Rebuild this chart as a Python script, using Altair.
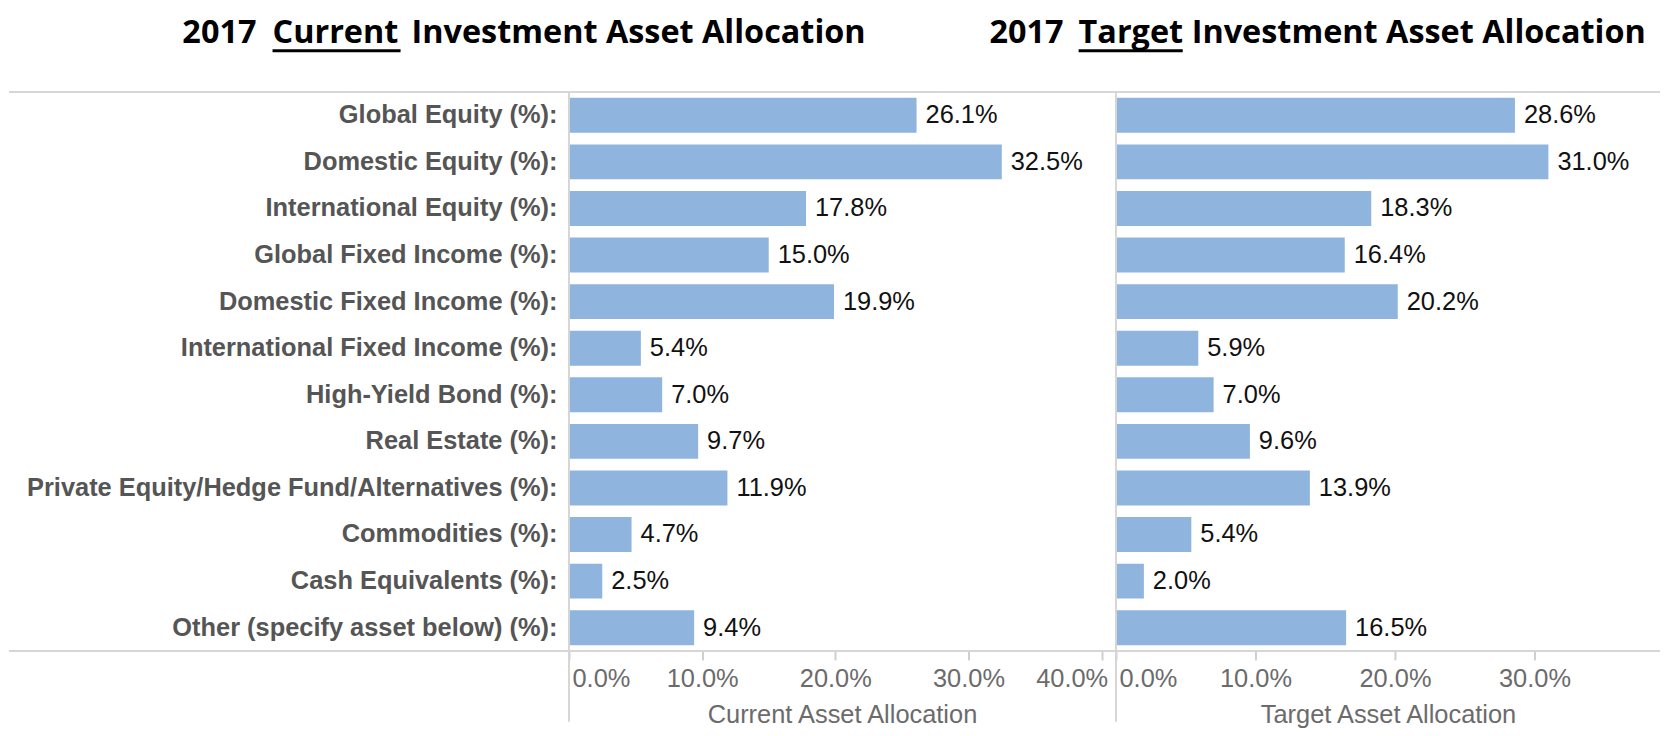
import altair as alt
import pandas as pd

categories = [
    "Global Equity (%):",
    "Domestic Equity (%):",
    "International Equity (%):",
    "Global Fixed Income (%):",
    "Domestic Fixed Income (%):",
    "International Fixed Income (%):",
    "High-Yield Bond (%):",
    "Real Estate (%):",
    "Private Equity/Hedge Fund/Alternatives (%):",
    "Commodities (%):",
    "Cash Equivalents (%):",
    "Other (specify asset below) (%):",
]
current_values = [26.1, 32.5, 17.8, 15.0, 19.9, 5.4, 7.0, 9.7, 11.9, 4.7, 2.5, 9.4]
target_values = [28.6, 31.0, 18.3, 16.4, 20.2, 5.9, 7.0, 9.6, 13.9, 5.4, 2.0, 16.5]
current_ticks = [0, 10, 20, 30, 40]
target_ticks = [0, 10, 20, 30]
current_domain = [0, 41]
target_domain = [0, 39]
title_left_parts = ["2017", "Current", "Investment Asset Allocation"]
title_right_parts = ["2017", "Target", "Investment Asset Allocation"]
axis_title_left = "Current Asset Allocation"
axis_title_right = "Target Asset Allocation"

df = pd.DataFrame({"category": categories, "current": current_values, "target": target_values})
one = pd.DataFrame({"k": [0]})

FONT = "Liberation Sans"
TFONT = "Open Sans"
BAR = "#8fb4de"
LINE = "#d6d6d6"
FS = 25.5

LW, RW, H = 548, 546, 561
VLINE = 632


def rule(**enc):
    return alt.Chart(one).mark_rule(color=LINE, strokeWidth=2).encode(
        **{k: alt.value(v) for k, v in enc.items()}
    )


def title_marks(parts, xs, ul):
    layers = []
    for p, x in zip(parts, xs):
        layers.append(
            alt.Chart(one)
            .mark_text(align="left", baseline="alphabetic", font=TFONT, fontWeight="bold",
                       fontSize=32.5, color="#000000")
            .encode(x=alt.value(x), y=alt.value(-49), text=alt.value(p))
        )
    layers.append(
        alt.Chart(one).mark_rule(color="#000000", strokeWidth=3).encode(
            x=alt.value(ul[0]), x2=alt.value(ul[1]), y=alt.value(-41.5)
        )
    )
    return layers


def panel(field, domain, ticks, axis_title, show_y, width, extra):
    xaxis = alt.Axis(
        values=ticks,
        labelExpr="format(datum.value, '.1f') + '%'",
        title=axis_title,
        grid=False,
        domain=False,
        ticks=True,
        tickColor="#cfcfcf",
        tickSize=9,
        tickWidth=2,
        labelFont=FONT,
        labelFontSize=FS,
        labelColor="#6b6b6b",
        labelPadding=7,
        labelAlign={
            "condition": [
                {"test": "datum.value == 0", "value": "left"},
                {"test": "datum.value == 40", "value": "right"},
            ],
            "value": "center",
        },
        labelOffset={
            "condition": [
                {"test": "datum.value == 0", "value": 3},
                {"test": "datum.value == 40", "value": 6},
            ],
            "value": 0,
        },
        titleFont=FONT,
        titleFontSize=FS,
        titleFontWeight="normal",
        titleColor="#6b6b6b",
        titlePadding=10,
    )
    if show_y:
        yaxis = alt.Axis(
            title=None, ticks=False, domain=False, labelFont=FONT, labelFontWeight="bold",
            labelFontSize=FS, labelColor="#555555", labelPadding=12, labelLimit=1000,
        )
    else:
        yaxis = None
    y = alt.Y("category:N", sort=categories,
              scale=alt.Scale(paddingInner=0.25, paddingOuter=0.125), axis=yaxis)
    x = alt.X(f"{field}:Q", scale=alt.Scale(domain=domain, nice=False, zero=True), axis=xaxis)
    base = alt.Chart(df).transform_calculate(lbl=f"format(datum.{field}, '.1f') + '%'")
    bars = base.mark_bar(color=BAR).encode(x=x, y=y)
    texts = base.mark_text(align="left", baseline="middle", dx=9, font=FONT, fontSize=FS,
                           color="#111111").encode(
        x=alt.X(f"{field}:Q"), y=alt.Y("category:N", sort=categories), text="lbl:N")
    return alt.layer(bars, texts, *extra).properties(width=width, height=H)


left_extra = [
    alt.Chart(one).mark_rule(opacity=0, strokeWidth=1).encode(
        x=alt.value(0), x2=alt.value(10), y=alt.value(-83)),
    rule(x=-562, x2=LW + 1 + RW, y=0),
    rule(x=-562, x2=LW + 1 + RW, y=H),
    rule(x=0, y=0, y2=VLINE),
] + title_marks(title_left_parts, [-388, -297.5, -158], (-297.5, -169))

right_extra = [
    rule(x=0, y=0, y2=VLINE),
] + title_marks(title_right_parts, [-127, -37.5, 76], (-37.5, 67))

left = panel("current", current_domain, current_ticks, axis_title_left, True, LW, left_extra)
right = panel("target", target_domain, target_ticks, axis_title_right, False, RW, right_extra)

chart = (
    alt.hconcat(left, right, spacing=1, bounds="flush")
    .resolve_scale(x="independent")
    .configure_view(stroke=None)
    .properties(padding=0, background="white")
)

chart.save("out.html", embed_options={"renderer": "svg", "actions": False})
